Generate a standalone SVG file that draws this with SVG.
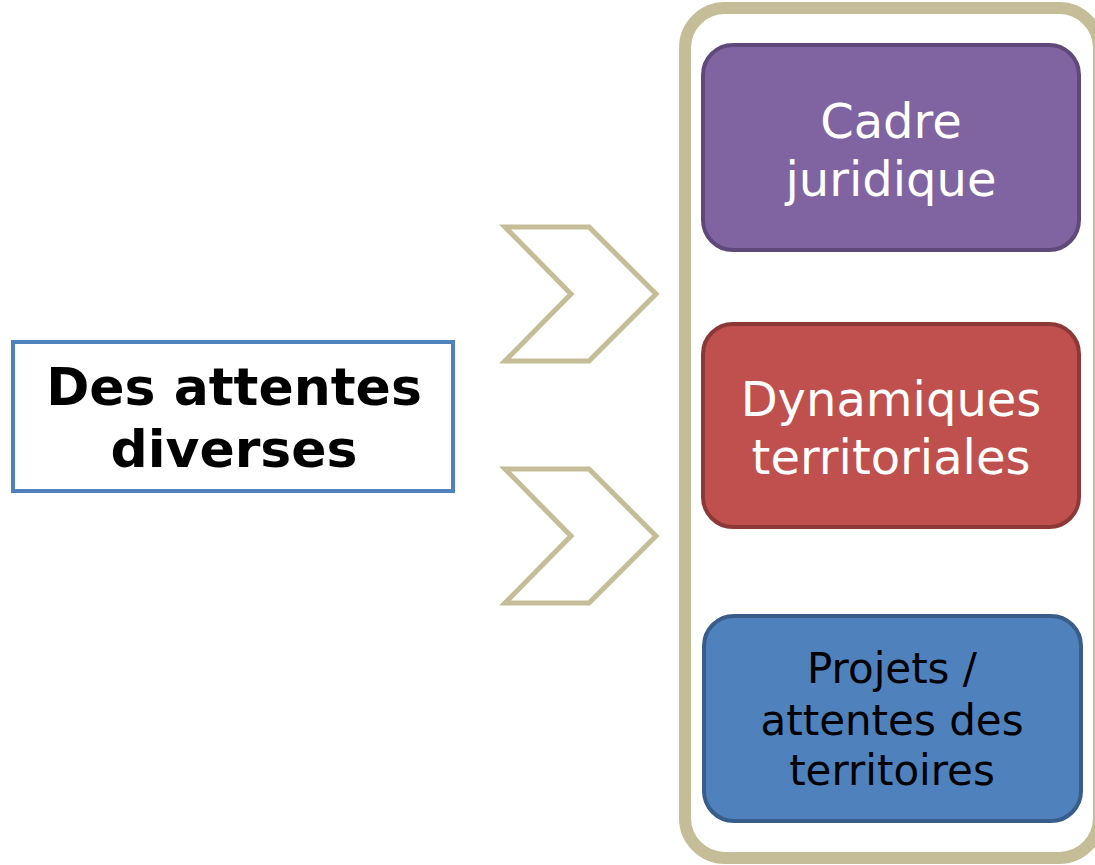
<svg xmlns="http://www.w3.org/2000/svg" width="1095" height="865" viewBox="0 0 1095 865">
<style>
.chev{fill:#FFFFFF;stroke:#C4BD97;stroke-width:5;stroke-linejoin:miter}
.t{font-family:"DejaVu Sans",Verdana,sans-serif;text-anchor:middle}
.w{fill:#FFFFFF;font-size:48px}
.k{fill:#000000;font-size:42px}
</style>
<rect width="1095" height="865" fill="#FFFFFF"/>
<g id="container">
<rect x="685" y="8" width="414" height="850" rx="40" ry="40" fill="#FFFFFF" stroke="#C4BD97" stroke-width="12"/>
</g>
<g id="connectors">
<polygon class="chev" points="505,227 589,227 656,294 589,361 505,361 571,294"/>
<polygon class="chev" points="505,469 589,469 656,536 589,603 505,603 571,536"/>
</g>
<g id="source">
<rect x="13" y="342" width="440" height="149" fill="#FFFFFF" stroke="#4F81BD" stroke-width="4"/>
<text class="t" x="234" y="405" font-size="52" font-weight="bold" fill="#000000">Des attentes</text>
<text class="t" x="234" y="467" font-size="52" font-weight="bold" fill="#000000">diverses</text>
</g>
<g id="cadre">
<rect x="703" y="45" width="376" height="205" rx="30" ry="30" fill="#8064A2" stroke="#5F497A" stroke-width="4"/>
<text class="t w" x="891" y="138">Cadre</text>
<text class="t w" x="891" y="196">juridique</text>
</g>
<g id="dynamiques">
<rect x="703" y="324" width="376" height="203" rx="30" ry="30" fill="#C0504D" stroke="#8C3836" stroke-width="4"/>
<text class="t w" x="891" y="416">Dynamiques</text>
<text class="t w" x="891" y="474">territoriales</text>
</g>
<g id="projets">
<rect x="704" y="616" width="377" height="205" rx="30" ry="30" fill="#4F81BD" stroke="#385D8A" stroke-width="4"/>
<text class="t k" x="892" y="683">Projets /</text>
<text class="t k" x="892" y="735">attentes des</text>
<text class="t k" x="892" y="785">territoires</text>
</g>
</svg>
